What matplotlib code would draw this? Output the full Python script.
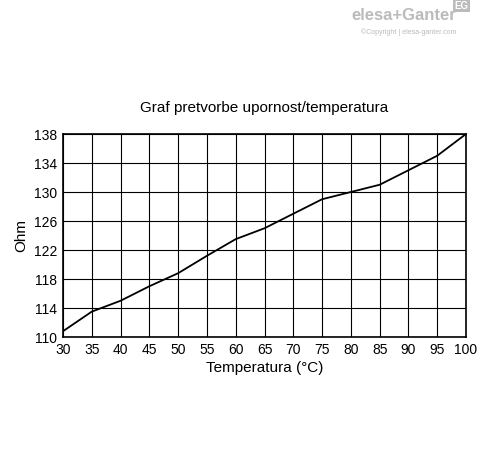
import matplotlib.pyplot as plt
import numpy as np

temps = [30, 35, 40, 45, 50, 55, 60, 65, 70, 75, 80, 85, 90, 95, 100]
ohms = [110.8, 113.5, 115, 117, 118.8, 121.2, 123.5, 125, 127, 129, 130, 131, 133, 135, 138]
x_ticks = list(range(30, 101, 5))
y_ticks = list(range(110, 139, 4))

plt.rcParams['font.family'] = ['Liberation Sans', 'DejaVu Sans']
fig = plt.figure(figsize=(4.88, 4.54), dpi=100)
ax = fig.add_axes([63/488, 1-337/454, 403/488, 203/454])
ax.plot(temps, ohms, color='black', lw=1.3)
ax.set_xlim(30, 100)
ax.set_ylim(110, 138)
ax.set_xticks(x_ticks)
ax.set_yticks(y_ticks)
ax.grid(True, color='black', lw=0.8)
for s in ax.spines.values():
    s.set_linewidth(1.2)
ax.tick_params(length=0, labelsize=10, pad=4)
ax.set_xlabel('Temperatura (°C)', fontsize=11, labelpad=3)
ax.set_ylabel('Ohm', fontsize=11)
ax.set_title('Graf pretvorbe upornost/temperatura', fontsize=11, pad=16)

fig.text(0.935, 0.955, 'elesa+Ganter', ha='right', fontsize=12, color='#bbbbbb', weight='bold')
fig.text(0.935, 0.925, '©Copyright | elesa-ganter.com', ha='right', fontsize=5, color='#bbbbbb')
fig.text(0.96, 0.98, 'EG', ha='right', fontsize=7, color='white', weight='bold',
         bbox=dict(facecolor='#bbbbbb', edgecolor='none', pad=1))
fig.savefig('out.png', dpi=100)
